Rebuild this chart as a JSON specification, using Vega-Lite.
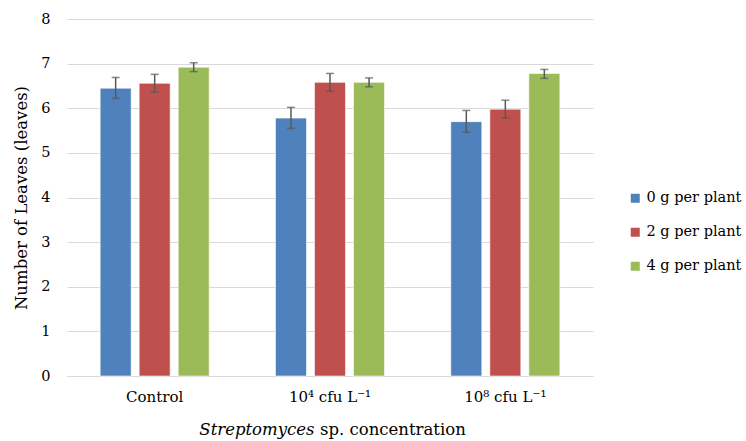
{
  "$schema": "https://vega.github.io/schema/vega-lite/v6.json",
  "width": 526,
  "height": 357,
  "autosize": "none",
  "padding": {"left": 67, "top": 19, "right": 153, "bottom": 65},
  "background": "white",
  "config": {
    "font": "DejaVu Serif",
    "view": {"stroke": null},
    "axis": {"labelFont": "DejaVu Serif", "titleFont": "DejaVu Serif", "labelColor": "#000000", "titleColor": "#000000", "titleFontWeight": "normal"},
    "legend": {"labelFont": "DejaVu Serif"}
  },
  "title": {
    "text": "sp. concentration",
    "orient": "bottom",
    "anchor": "start",
    "frame": "group",
    "font": "DejaVu Serif",
    "fontSize": 16.5,
    "fontWeight": "normal",
    "color": "#000000",
    "baseline": "alphabetic",
    "dx": 253,
    "offset": 0,
    "dy": -3
  },
  "data": {
    "values": [
      {"group": "Control", "series": "0 g per plant", "value": 6.45, "lo": 6.22, "hi": 6.69},
      {"group": "Control", "series": "2 g per plant", "value": 6.56, "lo": 6.36, "hi": 6.76},
      {"group": "Control", "series": "4 g per plant", "value": 6.92, "lo": 6.82, "hi": 7.02},
      {"group": "10⁴ cfu L⁻¹", "series": "0 g per plant", "value": 5.78, "lo": 5.55, "hi": 6.02},
      {"group": "10⁴ cfu L⁻¹", "series": "2 g per plant", "value": 6.58, "lo": 6.38, "hi": 6.78},
      {"group": "10⁴ cfu L⁻¹", "series": "4 g per plant", "value": 6.58, "lo": 6.48, "hi": 6.68},
      {"group": "10⁸ cfu L⁻¹", "series": "0 g per plant", "value": 5.70, "lo": 5.46, "hi": 5.95},
      {"group": "10⁸ cfu L⁻¹", "series": "2 g per plant", "value": 5.98, "lo": 5.78, "hi": 6.18},
      {"group": "10⁸ cfu L⁻¹", "series": "4 g per plant", "value": 6.78, "lo": 6.67, "hi": 6.87}
    ]
  },
  "encoding": {
    "x": {
      "field": "group",
      "type": "nominal",
      "sort": ["Control", "10⁴ cfu L⁻¹", "10⁸ cfu L⁻¹"],
      "scale": {"paddingInner": 0.378, "paddingOuter": 0.189},
      "axis": {
        "title": "Streptomyces",
        "titleFontStyle": "italic",
        "titleFontSize": 16.5,
        "titleAlign": "right",
        "titleAnchor": null,
        "titleX": 247,
        "titleY": 58,
        "titleBaseline": "alphabetic",
        "labelAngle": 0,
        "labelFontSize": 15,
        "labelPadding": 13,
        "ticks": false,
        "domainColor": "#d9d9d9",
        "domainWidth": 1
      }
    },
    "xOffset": {
      "field": "series",
      "type": "nominal",
      "sort": ["0 g per plant", "2 g per plant", "4 g per plant"],
      "scale": {"paddingInner": 0.205, "paddingOuter": 0}
    },
    "y": {
      "field": "value",
      "type": "quantitative",
      "scale": {"domain": [0, 8]},
      "axis": {
        "title": "Number of Leaves (leaves)",
        "titleFontSize": 16.5,
        "titlePadding": 11,
        "labelFontSize": 14.5,
        "labelPadding": 17,
        "values": [0, 1, 2, 3, 4, 5, 6, 7, 8],
        "labelOverlap": false,
        "domain": false,
        "ticks": false,
        "gridColor": "#d9d9d9",
        "gridWidth": 1
      }
    }
  },
  "layer": [
    {
      "mark": {"type": "bar", "stroke": "#ffffff", "strokeOpacity": 0.6, "strokeWidth": 1},
      "encoding": {
        "color": {
          "field": "series",
          "type": "nominal",
          "sort": ["0 g per plant", "2 g per plant", "4 g per plant"],
          "scale": {"range": ["#4F81BD", "#C0504D", "#9BBB59"]},
          "legend": {
            "title": null,
            "orient": "none",
            "legendX": 561,
            "legendY": 172,
            "symbolType": "square",
            "symbolSize": 81,
            "symbolStrokeWidth": 0,
            "labelFontSize": 14.5,
            "labelColor": "#000000",
            "rowPadding": 19,
            "labelOffset": 4
          }
        }
      }
    },
    {
      "mark": {"type": "rule", "color": "#595959", "strokeWidth": 1.5},
      "encoding": {
        "y": {"field": "lo", "type": "quantitative"},
        "y2": {"field": "hi"}
      }
    },
    {
      "mark": {"type": "tick", "color": "#595959", "thickness": 1.5, "size": 8, "orient": "horizontal"},
      "encoding": {"y": {"field": "lo", "type": "quantitative"}}
    },
    {
      "mark": {"type": "tick", "color": "#595959", "thickness": 1.5, "size": 8, "orient": "horizontal"},
      "encoding": {"y": {"field": "hi", "type": "quantitative"}}
    }
  ]
}
